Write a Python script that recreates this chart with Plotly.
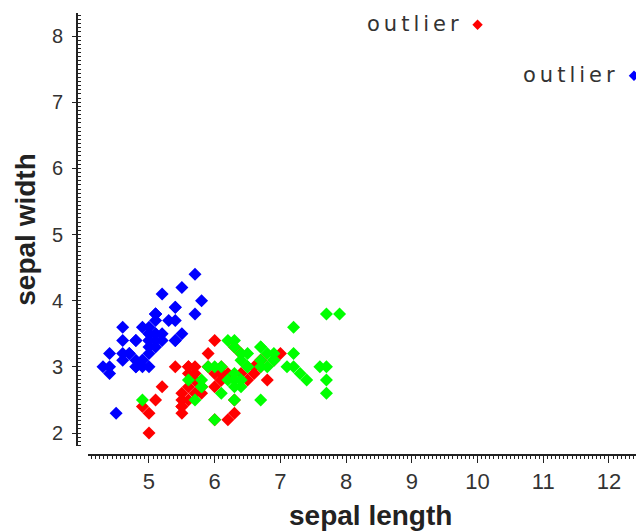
import plotly.graph_objects as go

# Iris data: sepal length / sepal width
setosa_x = [5.1, 4.9, 4.7, 4.6, 5.0, 5.4, 4.6, 5.0, 4.4, 4.9, 5.4, 4.8, 4.8, 4.3, 5.8, 5.7, 5.4, 5.1, 5.7, 5.1,
            5.4, 5.1, 4.6, 5.1, 4.8, 5.0, 5.0, 5.2, 5.2, 4.7, 4.8, 5.4, 5.2, 5.5, 4.9, 5.0, 5.5, 4.9, 4.4, 5.1,
            5.0, 4.5, 4.4, 5.0, 5.1, 4.8, 5.1, 4.6, 5.3, 5.0]
setosa_y = [3.5, 3.0, 3.2, 3.1, 3.6, 3.9, 3.4, 3.4, 2.9, 3.1, 3.7, 3.4, 3.0, 3.0, 4.0, 4.4, 3.9, 3.5, 3.8, 3.8,
            3.4, 3.7, 3.6, 3.3, 3.4, 3.0, 3.4, 3.5, 3.4, 3.2, 3.1, 3.4, 4.1, 4.2, 3.1, 3.2, 3.5, 3.6, 3.0, 3.4,
            3.5, 2.3, 3.2, 3.5, 3.8, 3.0, 3.8, 3.2, 3.7, 3.3]
versicolor_x = [7.0, 6.4, 6.9, 5.5, 6.5, 5.7, 6.3, 4.9, 6.6, 5.2, 5.0, 5.9, 6.0, 6.1, 5.6, 6.7, 5.6, 5.8, 6.2, 5.6,
                5.9, 6.1, 6.3, 6.1, 6.4, 6.6, 6.8, 6.7, 6.0, 5.7, 5.5, 5.5, 5.8, 6.0, 5.4, 6.0, 6.7, 6.3, 5.6, 5.5,
                5.5, 6.1, 5.8, 5.0, 5.6, 5.7, 5.7, 6.2, 5.1, 5.7]
versicolor_y = [3.2, 3.2, 3.1, 2.3, 2.8, 2.8, 3.3, 2.4, 2.9, 2.7, 2.0, 3.0, 2.2, 2.9, 2.9, 3.1, 3.0, 2.7, 2.2, 2.5,
                3.2, 2.8, 2.5, 2.8, 2.9, 3.0, 2.8, 3.0, 2.9, 2.6, 2.4, 2.4, 2.7, 2.7, 3.0, 3.4, 3.1, 2.3, 3.0, 2.5,
                2.6, 3.0, 2.6, 2.3, 2.7, 3.0, 2.9, 2.9, 2.5, 2.8]
virginica_x = [6.3, 5.8, 7.1, 6.3, 6.5, 7.6, 4.9, 7.3, 6.7, 7.2, 6.5, 6.4, 6.8, 5.7, 5.8, 6.4, 6.5, 7.7, 7.7, 6.0,
               6.9, 5.6, 7.7, 6.3, 6.7, 7.2, 6.2, 6.1, 6.4, 7.2, 7.4, 7.9, 6.4, 6.3, 6.1, 7.7, 6.3, 6.4, 6.0, 6.9,
               6.7, 6.9, 5.8, 6.8, 6.7, 6.7, 6.3, 6.5, 6.2, 5.9]
virginica_y = [3.3, 2.7, 3.0, 2.9, 3.0, 3.0, 2.5, 2.9, 2.5, 3.6, 3.2, 2.7, 3.0, 2.5, 2.8, 3.2, 3.0, 3.8, 2.6, 2.2,
               3.2, 2.8, 2.8, 2.7, 3.3, 3.2, 2.8, 3.0, 2.8, 3.0, 2.8, 3.8, 2.8, 2.8, 2.6, 3.0, 3.4, 3.1, 3.0, 3.1,
               3.1, 3.1, 2.7, 3.2, 3.3, 3.0, 2.5, 3.0, 3.4, 3.0]
outlier_red_x = [10.0]
outlier_red_y = [8.17]
outlier_blue_x = [12.38]
outlier_blue_y = [7.4]
outlier_label = "outlier"
x_title = "sepal length"
y_title = "sepal width"

x_ticks = [5, 6, 7, 8, 9, 10, 11, 12]
y_ticks = [2, 3, 4, 5, 6, 7, 8]

BLUE, RED, GREEN = "#0000ff", "#ff0000", "#00ff00"

fig = go.Figure()
for xs, ys, col in [(setosa_x, setosa_y, BLUE), (versicolor_x, versicolor_y, RED),
                    (virginica_x, virginica_y, GREEN)]:
    fig.add_trace(go.Scatter(x=xs, y=ys, mode="markers",
                             marker=dict(symbol="diamond", size=10, color=col, line=dict(width=0)),
                             showlegend=False, hoverinfo="x+y"))
for xs, ys, col in [(outlier_red_x, outlier_red_y, RED), (outlier_blue_x, outlier_blue_y, BLUE)]:
    fig.add_trace(go.Scatter(x=xs, y=ys, mode="markers",
                             marker=dict(symbol="diamond", size=8, color=col, line=dict(width=0)),
                             showlegend=False, hoverinfo="x+y", cliponaxis=False))
    fig.add_annotation(x=xs[0], y=ys[0], text=f'<span style="letter-spacing:4px">{outlier_label}</span>',
                       showarrow=False, xanchor="right", yanchor="middle", xshift=-13, yshift=1,
                       font=dict(family="DejaVu Sans", size=21, color="#333333"))

# x-axis title placed as annotation (slightly right of the axis centre, as in the original)
fig.add_annotation(xref="paper", yref="paper", x=0.525, y=0, xanchor="center", yanchor="middle",
                   yshift=-60, text=f"<b>{x_title}</b>", showarrow=False,
                   font=dict(family="Liberation Sans", size=28, color="#222222"))

axis_color = "#222222"
fig.update_layout(
    width=636, height=531,
    margin=dict(l=77, r=0, t=13, b=76),
    plot_bgcolor="white", paper_bgcolor="white",
    xaxis=dict(
        domain=[0.0197, 1], anchor="free", position=0, automargin=False,
        range=[4.072, 12.411], tickmode="array", tickvals=x_ticks,
        ticktext=[str(v) for v in x_ticks],
        showgrid=False, zeroline=False, showline=True, linecolor=axis_color, linewidth=2,
        ticks="outside", ticklen=7, tickwidth=1, tickcolor=axis_color,
        minor=dict(dtick=0.0625, tick0=0, ticks="outside", ticklen=3, tickwidth=1, tickcolor=axis_color, showgrid=False),
        tickfont=dict(family="Liberation Sans", size=22, color="#333333"),
    ),
    yaxis=dict(
        domain=[0.0204, 1], anchor="free", position=0, automargin=False,
        range=[1.804, 8.348], tickmode="array", tickvals=y_ticks,
        ticktext=[str(v) for v in y_ticks],
        showgrid=False, zeroline=False, showline=True, linecolor=axis_color, linewidth=2,
        ticks="outside", ticklen=4, tickwidth=1, tickcolor=axis_color,
        ticklabelstandoff=5,
        minor=dict(dtick=0.0625, tick0=0, ticks="inside", ticklen=3, tickwidth=1, tickcolor=axis_color, showgrid=False),
        tickfont=dict(family="Liberation Sans", size=20, color="#333333"),
        title=dict(text=f"<b>{y_title}</b>", standoff=7,
                   font=dict(family="Liberation Sans", size=28, color="#222222")),
    ),
)

# remove the default 8px page margin so the 636x531 figure fills the window exactly
fig.write_html("out.html", config={"displayModeBar": False},
               post_script="document.body.style.margin='0';document.body.style.overflow='hidden';")
